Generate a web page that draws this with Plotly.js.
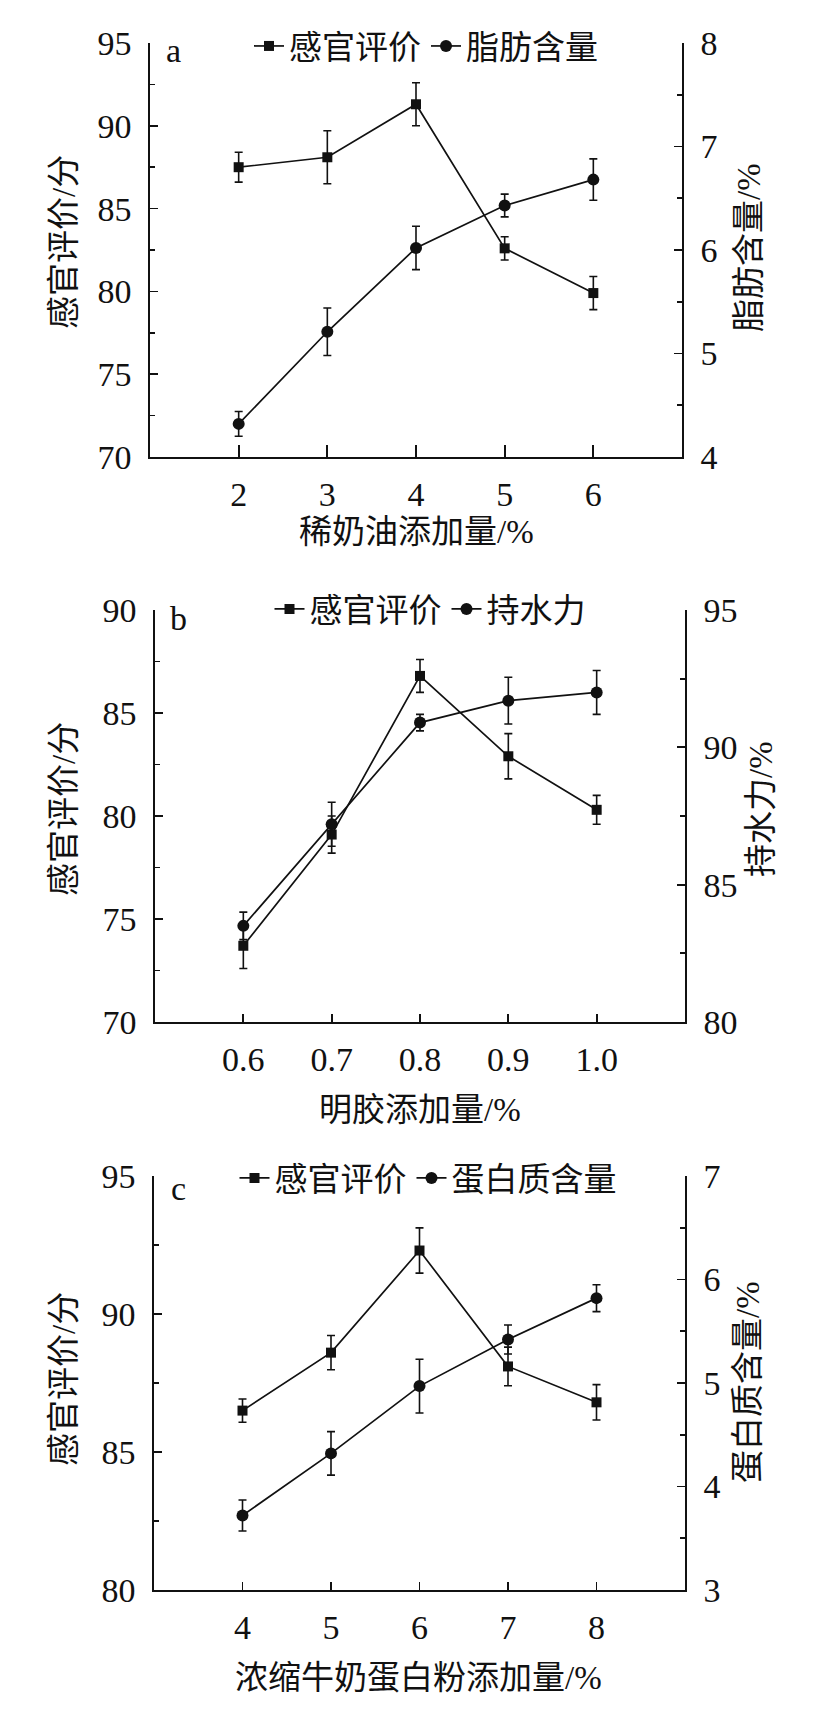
<!DOCTYPE html>
<html>
<head>
<meta charset="utf-8">
<script src="https://cdn.plot.ly/plotly-3.0.1.min.js"></script>
<style>html,body{margin:0;padding:0;background:#fff;}#chart{width:840px;height:1709px;}</style>
</head>
<body>
<div id="chart"></div>
<script>
// ---- data ----
const xA = [2, 3, 4, 5, 6];
const xATicks = ['2', '3', '4', '5', '6'];
const sensA = [87.5, 88.1, 91.3, 82.6, 79.9];
const sensAErr = [0.9, 1.6, 1.3, 0.7, 1.0];
const fatA = [4.32, 5.21, 6.02, 6.43, 6.68];
const fatAErr = [0.12, 0.23, 0.21, 0.11, 0.20];

const xB = [0.6, 0.7, 0.8, 0.9, 1.0];
const xBTicks = ['0.6', '0.7', '0.8', '0.9', '1.0'];
const sensB = [73.7, 79.1, 86.8, 82.9, 80.3];
const sensBErr = [1.1, 0.9, 0.8, 1.1, 0.7];
const whcB = [83.5, 87.2, 90.9, 91.7, 92.0];
const whcBErr = [0.5, 0.8, 0.3, 0.85, 0.8];

const xC = [4, 5, 6, 7, 8];
const xCTicks = ['4', '5', '6', '7', '8'];
const sensC = [86.5, 88.6, 92.3, 88.1, 86.8];
const sensCErr = [0.42, 0.62, 0.82, 0.7, 0.64];
const protC = [3.72, 4.32, 4.97, 5.42, 5.82];
const protCErr = [0.15, 0.21, 0.26, 0.14, 0.13];

const nameSens = '感官评价';
const nameFat = '脂肪含量';
const nameWhc = '持水力';
const nameProt = '蛋白质含量';

// ---- styling ----
const W = 840, H = 1709;
const FONT = 'Liberation Serif, "Noto Sans CJK SC", serif';
const INK = '#111';
const py = p => 1 - p / H;
const px = p => p / W;

function trace(x, y, err, sym, name, xa, ya, lg) {
  return {
    x: x, y: y, name: name, type: 'scatter', mode: 'lines+markers',
    xaxis: xa, yaxis: ya, legend: lg,
    line: {color: INK, width: 1.7},
    marker: {symbol: sym, size: sym === 'square' ? 10 : 12, color: INK},
    error_y: {type: 'data', array: err, visible: true, color: INK, thickness: 1.6, width: 4}
  };
}

const data = [
  trace(xA, sensA, sensAErr, 'square', nameSens, 'x', 'y', 'legend'),
  trace(xA, fatA, fatAErr, 'circle', nameFat, 'x', 'y2', 'legend'),
  trace(xB, sensB, sensBErr, 'square', nameSens, 'x2', 'y3', 'legend2'),
  trace(xB, whcB, whcBErr, 'circle', nameWhc, 'x2', 'y4', 'legend2'),
  trace(xC, sensC, sensCErr, 'square', nameSens, 'x3', 'y5', 'legend3'),
  trace(xC, protC, protCErr, 'circle', nameProt, 'x3', 'y6', 'legend3')
];

const tickFont = {family: FONT, size: 34, color: INK};

function xax(dom, anchor, range, vals, text, tlen) {
  return {
    domain: dom, anchor: anchor, range: range,
    tickmode: 'array', tickvals: vals, ticktext: text,
    showline: true, linecolor: INK, linewidth: 1.7, mirror: false,
    ticks: 'inside', ticklen: tlen, tickwidth: 1.7, tickcolor: INK,
    showgrid: false, zeroline: false, tickfont: tickFont, ticklabelstandoff: 6
  };
}
function yax(dom, anchor, range, dtick, side, overlay) {
  const a = {
    anchor: anchor, range: range, dtick: dtick, tick0: range[0],
    showline: true, linecolor: INK, linewidth: 1.7, mirror: false,
    ticks: 'inside', ticklen: 8, tickwidth: 1.7, tickcolor: INK,
    minor: {ticks: 'inside', ticklen: 5, tickwidth: 1.7, tickcolor: INK, dtick: dtick / 2},
    showgrid: false, zeroline: false, tickfont: tickFont, side: side,
    ticklabelstandoff: 10
  };
  if (overlay) { a.overlaying = overlay; } else { a.domain = dom; }
  return a;
}

const domA = [py(457), py(43)], domB = [py(1022), py(610)], domC = [py(1590), py(1176)];

const legendBase = {
  orientation: 'h', xref: 'paper', yref: 'paper', xanchor: 'center', yanchor: 'middle',
  font: {family: FONT, size: 33, color: INK}, bgcolor: 'rgba(0,0,0,0)', itemwidth: 30,
  tracegroupgap: 0
};

function ann(text, x, y, size, angle) {
  return {text: text, x: px(x), y: py(y), xref: 'paper', yref: 'paper',
    showarrow: false, xanchor: 'center', yanchor: 'middle', textangle: angle || 0,
    font: {family: FONT, size: size, color: INK}};
}

const layout = {
  width: W, height: H, margin: {l: 0, r: 0, t: 0, b: 0},
  paper_bgcolor: '#fff', plot_bgcolor: 'rgba(0,0,0,0)', showlegend: true,
  xaxis: xax([px(150), px(682)], 'y', [1, 7], xA, xATicks, 12),
  yaxis: yax(domA, 'x', [70, 95], 5, 'left'),
  yaxis2: yax(domA, 'x', [4, 8], 1, 'right', 'y'),
  xaxis2: xax([px(155), px(685)], 'y3', [0.5, 1.1], xB, xBTicks, 8),
  yaxis3: yax(domB, 'x2', [70, 90], 5, 'left'),
  yaxis4: yax(domB, 'x2', [80, 95], 5, 'right', 'y3'),
  xaxis3: xax([px(154), px(685)], 'y5', [3, 9], xC, xCTicks, 8),
  yaxis5: yax(domC, 'x3', [80, 95], 5, 'left'),
  yaxis6: yax(domC, 'x3', [3, 7], 1, 'right', 'y5'),
  legend: Object.assign({}, legendBase, {x: px(426), y: py(46)}),
  legend2: Object.assign({}, legendBase, {x: px(430), y: py(609)}),
  legend3: Object.assign({}, legendBase, {x: px(428), y: py(1178)}),
  annotations: [
    ann('a', 173, 50, 34), ann('b', 178, 618, 34), ann('c', 178, 1188, 34),
    ann('感官评价/分', 64, 242, 33, -90),
    ann('脂肪含量/%', 749, 248, 33, -90),
    ann('稀奶油添加量/%', 416, 532, 33),
    ann('感官评价/分', 64, 809, 33, -90),
    ann('持水力/%', 761, 809, 33, -90),
    ann('明胶添加量/%', 420, 1110, 33),
    ann('感官评价/分', 64, 1379, 33, -90),
    ann('蛋白质含量/%', 748, 1382, 33, -90),
    ann('浓缩牛奶蛋白粉添加量/%', 418, 1678, 33)
  ]
};

Plotly.newPlot('chart', data, layout, {displayModeBar: false, staticPlot: true});
</script>
</body>
</html>
